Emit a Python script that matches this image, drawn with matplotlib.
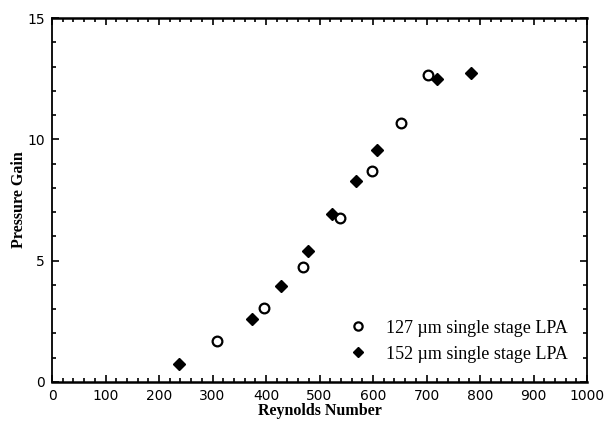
import matplotlib.pyplot as plt
from matplotlib.ticker import MultipleLocator

# 127 um single stage LPA (open circles)
re_127 = [308, 396, 470, 538, 599, 652, 702]
gain_127 = [1.69, 3.04, 4.75, 6.74, 8.71, 10.68, 12.65]

# 152 um single stage LPA (filled diamonds)
re_152 = [238, 374, 428, 479, 523, 568, 608, 719, 783]
gain_152 = [0.73, 2.58, 3.96, 5.41, 6.92, 8.29, 9.56, 12.47, 12.72]

x_ticks = list(range(0, 1001, 100))
y_ticks = [0, 5, 10, 15]

fig = plt.figure(figsize=(6.04, 4.26), dpi=100)
ax = fig.add_axes([0.0861, 0.1033, 0.8858, 0.8544])

ax.plot(re_127, gain_127, 'o', ms=7, mfc='white', mec='black', mew=1.6,
        label='127 \u00b5m single stage LPA', clip_on=False)
ax.plot(re_152, gain_152, 'D', ms=6.5, mfc='black', mec='black',
        label='152 \u00b5m single stage LPA', clip_on=False)

ax.set_xlim(0, 1000)
ax.set_ylim(0, 15)
ax.set_xticks(x_ticks)
ax.set_yticks(y_ticks)
ax.xaxis.set_minor_locator(MultipleLocator(20))
ax.yaxis.set_minor_locator(MultipleLocator(1))
ax.tick_params(which='both', direction='in', top=True, right=True,
               labelsize=10, width=1.2)
ax.tick_params(axis='x', pad=5)
ax.tick_params(axis='y', pad=5)
ax.tick_params(which='major', length=5)
ax.tick_params(which='minor', length=3)

for side in ['top', 'bottom']:
    ax.spines[side].set_linewidth(1.8)
for side in ['left', 'right']:
    ax.spines[side].set_linewidth(1.3)

ax.set_xlabel('Reynolds Number', family='Liberation Serif', fontweight='bold',
              fontsize=11.5, labelpad=0)
ax.set_ylabel('Pressure Gain', family='Liberation Serif', fontweight='bold',
              fontsize=11.5, labelpad=0)

leg = ax.legend(loc='lower right', frameon=False, handletextpad=1.0,
                prop={'family': 'Liberation Serif', 'size': 13},
                borderaxespad=0.3, labelspacing=0.5, handlelength=1.0,
                markerscale=0.85, bbox_to_anchor=(0.987, 0.018))

fig.savefig('out.png', dpi=100)
